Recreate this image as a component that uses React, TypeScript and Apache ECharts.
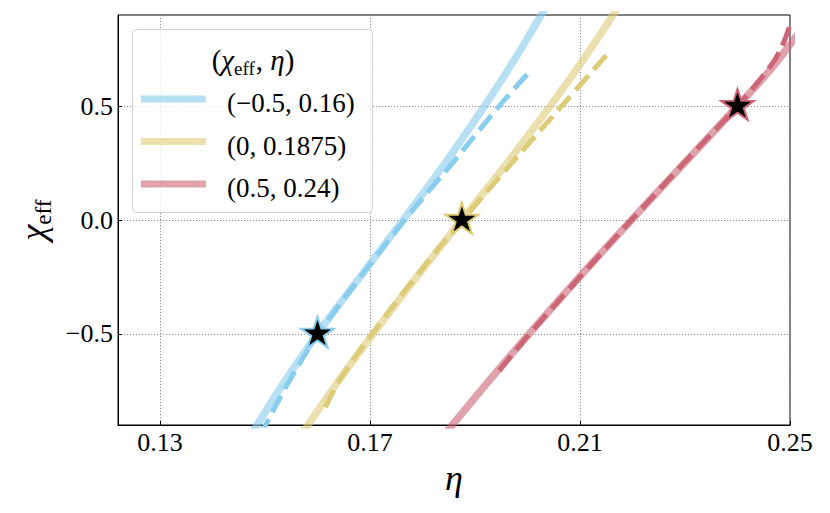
import React, { useEffect, useRef } from "react";
import * as echarts from "echarts";

// ---- data ----
const etaTicks = [0.13, 0.17, 0.21, 0.25];
const chiTicks = [-0.5, 0, 0.5];
const seriesNames = ["(−0.5, 0.16)", "(0, 0.1875)", "(0.5, 0.24)"];

// solid curves (chi_eff -> eta)
const blueSolidChi = [-0.95, -0.9, -0.7, -0.5, -0.25, 0.0, 0.25, 0.5, 0.7, 0.9, 0.95];
const blueSolidEta = [0.1473, 0.1485, 0.154, 0.16, 0.1681, 0.1763, 0.1843, 0.1918, 0.1974, 0.2026, 0.2039];
const yellowSolidChi = [-0.95, -0.9, -0.7, -0.5, -0.25, 0.0, 0.25, 0.5, 0.7, 0.9, 0.95];
const yellowSolidEta = [0.1567, 0.1582, 0.1642, 0.1706, 0.1789, 0.1875, 0.1961, 0.2043, 0.2105, 0.2163, 0.2177];
const redSolidChi = [-0.95, -0.9, -0.7, -0.5, -0.25, 0.0, 0.25, 0.5, 0.65, 0.8, 0.9];
const redSolidEta = [0.1839, 0.1857, 0.1929, 0.2003, 0.2099, 0.2198, 0.2299, 0.24, 0.2459, 0.251, 0.2543];

// dashed curves
const blueDashChi = [-0.95, -0.9, -0.7, -0.5, -0.25, 0.0, 0.25, 0.5, 0.646];
const blueDashEta = [0.149, 0.1501, 0.1548, 0.1602, 0.1682, 0.1766, 0.1857, 0.1946, 0.2002];
const yellowDashChi = [-0.822, -0.7, -0.5, -0.25, 0.0, 0.25, 0.5, 0.749];
const yellowDashEta = [0.1615, 0.1643, 0.1704, 0.1787, 0.1876, 0.197, 0.2065, 0.216];
const redDashChi = [-0.661, -0.5, -0.25, 0.0, 0.25, 0.5, 0.6, 0.7, 0.78, 0.87];
const redDashEta = [0.1946, 0.2004, 0.21, 0.2198, 0.2298, 0.24, 0.2437, 0.247, 0.2488, 0.2502];

// injection points (eta, chi_eff)
const starEta = [0.16, 0.1875, 0.24];
const starChi = [-0.5, 0.0, 0.5];

const baseColors = ["#88CCEE", "#DDCC77", "#CC6677"];
const lightColors = ["rgba(136,204,238,0.6)", "rgba(221,204,119,0.6)", "rgba(204,102,119,0.6)"];

const FONT = "'Liberation Serif', 'Times New Roman', serif";

const STAR =
  "path://M100,0L122.45,69.1L195.11,69.1L136.33,111.8L158.78,180.9L100,138.2L41.22,180.9L63.67,111.8L4.89,69.1L77.55,69.1Z";

const pairs = (xs: number[], ys: number[]) => xs.map((x, i) => [x, ys[i]]);

export default function App() {
  const ref = useRef<HTMLDivElement>(null);

  useEffect(() => {
    if (!ref.current) return;
    const chart = echarts.init(ref.current, null, { renderer: "svg" });

    const solids = [
      pairs(blueSolidEta, blueSolidChi),
      pairs(yellowSolidEta, yellowSolidChi),
      pairs(redSolidEta, redSolidChi),
    ];
    const dashes = [
      pairs(blueDashEta, blueDashChi),
      pairs(yellowDashEta, yellowDashChi),
      pairs(redDashEta, redDashChi),
    ];

    const series: any[] = [];
    solids.forEach((d, i) => {
      series.push({
        type: "line",
        name: seriesNames[i],
        data: d,
        smooth: 0.4,
        showSymbol: false,
        symbol: "none",
        clip: true,
        z: 2,
        lineStyle: { color: lightColors[i], width: 7.5, cap: "butt" },
      });
    });
    dashes.forEach((d, i) => {
      series.push({
        type: "line",
        name: seriesNames[i] + " dashed",
        data: d,
        smooth: 0.4,
        showSymbol: false,
        symbol: "none",
        clip: true,
        z: 3,
        lineStyle: { color: baseColors[i], width: 5, type: [19, 8], cap: "butt" },
      });
    });
    series.push({
      type: "scatter",
      name: "injections",
      symbol: STAR,
      symbolSize: [33, 31],
      symbolOffset: [0, -1.6],
      z: 5,
      data: starEta.map((x, i) => ({
        value: [x, starChi[i]],
        itemStyle: { color: "#000", opacity: 1, borderColor: baseColors[i], borderWidth: 2 },
      })),
    });

    const legendGraphics: any[] = [
      {
        type: "rect",
        shape: { x: 132.5, y: 29.5, width: 240, height: 183, r: 4 },
        style: { fill: "rgba(255,255,255,0.8)", stroke: "#d5d5d5", lineWidth: 1 },
        z: 100,
      },
      {
        type: "text",
        x: 253,
        y: 60,
        z: 101,
        style: {
          text: "{p|(}{c|χ}{s|eff}{p|, }{c|η}{p|)}",
          align: "center",
          verticalAlign: "middle",
          fill: "#000",
          rich: {
            p: { fontFamily: FONT, fontSize: 29, color: "#000", lineHeight: 32 },
            c: { fontFamily: FONT, fontSize: 29, fontStyle: "italic", color: "#000", lineHeight: 32 },
            s: { fontFamily: FONT, fontSize: 19, color: "#000", lineHeight: 19, padding: [17, 1, 0, 0] },
          },
        },
      },
    ];
    const rowsY = [99, 141.5, 184];
    seriesNames.forEach((n, i) => {
      legendGraphics.push({
        type: "line",
        z: 101,
        shape: { x1: 141, y1: rowsY[i], x2: 206, y2: rowsY[i] },
        style: { stroke: lightColors[i], lineWidth: 7 },
      });
      legendGraphics.push({
        type: "text",
        z: 101,
        x: 227,
        y: rowsY[i] + 4,
        style: {
          text: n,
          fontFamily: FONT,
          fontSize: 27,
          fill: "#000",
          align: "left",
          verticalAlign: "middle",
        },
      });
    });

    chart.setOption({
      animation: false,
      backgroundColor: "#fff",
      grid: {
        left: 118,
        right: 40,
        top: 15,
        bottom: 88,
        show: true,
        borderColor: "#000",
        borderWidth: 1,
        backgroundColor: "transparent",
        containLabel: false,
        outerBoundsMode: "none",
      },
      xAxis: {
        type: "value",
        min: 0.122,
        max: 0.25,
        name: "η",
        nameLocation: "middle",
        nameGap: 31,
        nameTextStyle: { fontFamily: FONT, fontStyle: "italic", fontSize: 36, color: "#000" },
        axisLine: { show: true, onZero: false, lineStyle: { color: "#000", width: 1 } },
        axisTick: {
          show: true,
          inside: true,
          length: 4,
          customValues: etaTicks,
          lineStyle: { color: "#000", width: 1 },
        },
        axisLabel: {
          customValues: etaTicks,
          formatter: (v: number) => v.toFixed(2),
          margin: 4,
          fontFamily: FONT,
          fontSize: 26,
          color: "#000",
        },
        splitLine: { show: true, lineStyle: { type: [1.2, 1.8], color: "#8f8f8f", width: 1 } },
      },
      yAxis: {
        type: "value",
        min: -0.9,
        max: 0.9,
        name: "{c|χ}{s|eff}",
        nameLocation: "middle",
        nameRotate: 90,
        nameGap: 62,
        nameTextStyle: {
          color: "#000",
          rich: {
            c: { fontFamily: FONT, fontSize: 36, fontStyle: "italic", color: "#000", lineHeight: 38 },
            s: { fontFamily: FONT, fontSize: 23, color: "#000", lineHeight: 23, padding: [20, 0, 0, 0] },
          },
        },
        axisLine: { show: true, onZero: false, lineStyle: { color: "#000", width: 1 } },
        axisTick: {
          show: true,
          inside: true,
          length: 4,
          customValues: chiTicks,
          lineStyle: { color: "#000", width: 1 },
        },
        axisLabel: {
          customValues: chiTicks,
          formatter: (v: number) => (v < 0 ? "−" : "") + Math.abs(v).toFixed(1),
          margin: 5,
          fontFamily: FONT,
          fontSize: 26,
          color: "#000",
        },
        splitLine: { show: true, lineStyle: { type: [1.2, 1.8], color: "#8f8f8f", width: 1 } },
      },
      graphic: legendGraphics,
      series,
    });

    return () => chart.dispose();
  }, []);

  return (
    <div
      ref={ref}
      style={{ position: "fixed", left: 0, top: 0, width: 830, height: 513, background: "#fff" }}
    />
  );
}
